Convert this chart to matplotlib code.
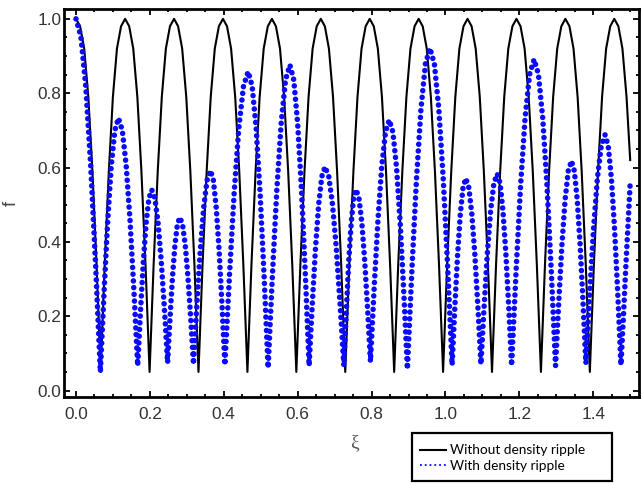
import matplotlib.pyplot as plt
from matplotlib.lines import Line2D
from matplotlib.patches import Rectangle
from matplotlib.ticker import MultipleLocator

# f(xi) without density ripple
xi_plain = [
    0.0000, 0.0111, 0.0223, 0.0334, 0.0445, 0.0557,
    0.0668, 0.0778, 0.0889, 0.0999, 0.1109, 0.1220, 0.1330, 0.1440, 0.1550, 0.1661, 0.1771, 0.1881,
    0.1992, 0.2102, 0.2213, 0.2323, 0.2433, 0.2544, 0.2654, 0.2764, 0.2874, 0.2985, 0.3095, 0.3205,
    0.3316, 0.3426, 0.3537, 0.3647, 0.3757, 0.3868, 0.3978, 0.4088, 0.4198, 0.4309, 0.4419, 0.4529,
    0.4640, 0.4750, 0.4861, 0.4971, 0.5081, 0.5192, 0.5302, 0.5412, 0.5522, 0.5633, 0.5743, 0.5853,
    0.5964, 0.6074, 0.6185, 0.6295, 0.6405, 0.6516, 0.6626, 0.6736, 0.6846, 0.6957, 0.7067, 0.7177,
    0.7288, 0.7398, 0.7509, 0.7619, 0.7729, 0.7840, 0.7950, 0.8060, 0.8170, 0.8281, 0.8391, 0.8501,
    0.8612, 0.8722, 0.8833, 0.8943, 0.9053, 0.9164, 0.9274, 0.9384, 0.9494, 0.9605, 0.9715, 0.9825,
    0.9936, 1.0046, 1.0157, 1.0267, 1.0377, 1.0488, 1.0598, 1.0708, 1.0818, 1.0929, 1.1039, 1.1149,
    1.1260, 1.1370, 1.1481, 1.1591, 1.1701, 1.1812, 1.1922, 1.2032, 1.2142, 1.2253, 1.2363, 1.2473,
    1.2584, 1.2694, 1.2805, 1.2915, 1.3025, 1.3136, 1.3246, 1.3356, 1.3466, 1.3577, 1.3687, 1.3797,
    1.3908, 1.4018, 1.4129, 1.4239, 1.4349, 1.4460, 1.4570, 1.4680, 1.4790, 1.4901, 1.5000,
]
f_plain = [
    1.00, 0.98, 0.92, 0.79, 0.59, 0.34,
    0.05, 0.34, 0.59, 0.79, 0.92, 0.98, 1.00, 0.98, 0.92, 0.79, 0.59, 0.34,
    0.05, 0.34, 0.59, 0.79, 0.92, 0.98, 1.00, 0.98, 0.92, 0.79, 0.59, 0.34,
    0.05, 0.34, 0.59, 0.79, 0.92, 0.98, 1.00, 0.98, 0.92, 0.79, 0.59, 0.34,
    0.05, 0.34, 0.59, 0.79, 0.92, 0.98, 1.00, 0.98, 0.92, 0.79, 0.59, 0.34,
    0.05, 0.34, 0.59, 0.79, 0.92, 0.98, 1.00, 0.98, 0.92, 0.79, 0.59, 0.34,
    0.05, 0.34, 0.59, 0.79, 0.92, 0.98, 1.00, 0.98, 0.92, 0.79, 0.59, 0.34,
    0.05, 0.34, 0.59, 0.79, 0.92, 0.98, 1.00, 0.98, 0.92, 0.79, 0.59, 0.34,
    0.05, 0.34, 0.59, 0.79, 0.92, 0.98, 1.00, 0.98, 0.92, 0.79, 0.59, 0.34,
    0.05, 0.34, 0.59, 0.79, 0.92, 0.98, 1.00, 0.98, 0.92, 0.79, 0.59, 0.34,
    0.05, 0.34, 0.59, 0.79, 0.92, 0.98, 1.00, 0.98, 0.92, 0.79, 0.59, 0.34,
    0.05, 0.34, 0.59, 0.79, 0.92, 0.98, 1.00, 0.98, 0.92, 0.79, 0.62,
]

# f(xi) with density ripple
xi_ripple = [
    0.0000, 0.0132, 0.0264, 0.0396, 0.0528,
    0.0660, 0.0758, 0.0856, 0.0954, 0.1052,
    0.1150, 0.1254, 0.1358, 0.1462, 0.1566,
    0.1670, 0.1746, 0.1822, 0.1898, 0.1974,
    0.2050, 0.2136, 0.2222, 0.2308, 0.2394,
    0.2480, 0.2546, 0.2612, 0.2678, 0.2744,
    0.2810, 0.2884, 0.2958, 0.3032, 0.3106,
    0.3180, 0.3272, 0.3364, 0.3456, 0.3548,
    0.3640, 0.3718, 0.3796, 0.3874, 0.3952,
    0.4030, 0.4156, 0.4282, 0.4408, 0.4534,
    0.4660, 0.4768, 0.4876, 0.4984, 0.5092,
    0.5200, 0.5318, 0.5436, 0.5554, 0.5672,
    0.5790, 0.5894, 0.5998, 0.6102, 0.6206,
    0.6310, 0.6396, 0.6482, 0.6568, 0.6654,
    0.6740, 0.6842, 0.6944, 0.7046, 0.7148,
    0.7250, 0.7316, 0.7382, 0.7448, 0.7514,
    0.7580, 0.7658, 0.7736, 0.7814, 0.7892,
    0.7970, 0.8072, 0.8174, 0.8276, 0.8378,
    0.8480, 0.8578, 0.8676, 0.8774, 0.8872,
    0.8970, 0.9092, 0.9214, 0.9336, 0.9458,
    0.9580, 0.9700, 0.9820, 0.9940, 1.0060,
    1.0180, 1.0254, 1.0328, 1.0402, 1.0476,
    1.0550, 1.0632, 1.0714, 1.0796, 1.0878,
    1.0960, 1.1048, 1.1136, 1.1224, 1.1312,
    1.1400, 1.1478, 1.1556, 1.1634, 1.1712,
    1.1790, 1.1912, 1.2034, 1.2156, 1.2278,
    1.2400, 1.2516, 1.2632, 1.2748, 1.2864,
    1.2980, 1.3066, 1.3152, 1.3238, 1.3324,
    1.3410, 1.3488, 1.3566, 1.3644, 1.3722,
    1.3800, 1.3904, 1.4008, 1.4112, 1.4216,
    1.4320, 1.4406, 1.4492, 1.4578, 1.4664,
    1.4750, 1.4813, 1.4875, 1.4938, 1.5000,
]
f_ripple = [
    1.000, 0.953, 0.819, 0.609, 0.344,
    0.050, 0.261, 0.452, 0.603, 0.700,
    0.733, 0.700, 0.606, 0.459, 0.273,
    0.067, 0.213, 0.345, 0.450, 0.517,
    0.540, 0.517, 0.451, 0.348, 0.219,
    0.075, 0.196, 0.305, 0.391, 0.447,
    0.466, 0.447, 0.391, 0.303, 0.193,
    0.071, 0.232, 0.377, 0.492, 0.566,
    0.592, 0.566, 0.492, 0.377, 0.231,
    0.069, 0.313, 0.533, 0.707, 0.819,
    0.858, 0.819, 0.706, 0.530, 0.307,
    0.061, 0.313, 0.540, 0.720, 0.836,
    0.876, 0.836, 0.721, 0.543, 0.317,
    0.067, 0.232, 0.382, 0.500, 0.576,
    0.602, 0.576, 0.500, 0.382, 0.232,
    0.067, 0.213, 0.346, 0.450, 0.518,
    0.541, 0.518, 0.453, 0.350, 0.221,
    0.078, 0.279, 0.460, 0.604, 0.696,
    0.728, 0.695, 0.600, 0.452, 0.265,
    0.058, 0.325, 0.565, 0.756, 0.879,
    0.921, 0.879, 0.758, 0.570, 0.332,
    0.069, 0.224, 0.364, 0.475, 0.546,
    0.571, 0.546, 0.475, 0.365, 0.225,
    0.071, 0.229, 0.372, 0.485, 0.558,
    0.583, 0.558, 0.484, 0.370, 0.226,
    0.067, 0.322, 0.552, 0.734, 0.851,
    0.891, 0.851, 0.734, 0.552, 0.322,
    0.067, 0.237, 0.391, 0.513, 0.591,
    0.618, 0.591, 0.514, 0.393, 0.241,
    0.073, 0.263, 0.435, 0.571, 0.658,
    0.688, 0.658, 0.570, 0.433, 0.260,
    0.069, 0.190, 0.320, 0.440, 0.558,
]

labels = ['Without density ripple', 'With density ripple']

fig = plt.figure(figsize=(6.41, 4.83), dpi=100)
ax = fig.add_axes([0.0998, 0.178, 0.897, 0.803])

ax.plot(xi_plain, f_plain, color='black', lw=1.5, zorder=2)
ax.plot(xi_ripple, f_ripple, color='#0a0aff', lw=4.0, dashes=(0.01, 1.2),
        dash_capstyle='round', zorder=3)

ax.set_xlim(-0.0325, 1.5237)
ax.set_ylim(-0.0175, 1.026)
ax.xaxis.set_major_locator(MultipleLocator(0.2))
ax.xaxis.set_minor_locator(MultipleLocator(0.05))
ax.yaxis.set_major_locator(MultipleLocator(0.2))
ax.yaxis.set_minor_locator(MultipleLocator(0.05))
ax.xaxis.set_major_formatter(lambda v, p: f'{v:.1f}')
ax.yaxis.set_major_formatter(lambda v, p: f'{v:.1f}')

for s in ax.spines.values():
    s.set_linewidth(2.0)
ax.tick_params(which='both', direction='in', top=True, right=True,
               labelsize=12.4, labelcolor='#333333', width=1.3)
ax.tick_params(which='major', length=4)
ax.tick_params(which='minor', length=2.5)
ax.tick_params(axis='x', pad=7)
ax.tick_params(axis='y', pad=2)
for t in ax.get_xticklabels() + ax.get_yticklabels():
    t.set_family('Liberation Sans')

ax.set_ylabel('f', fontsize=13, color='#444444', family='Liberation Sans')
ax.yaxis.set_label_coords(-0.0765, 0.5)
ax.set_xlabel('ξ', fontsize=14, color='#555555', family='Liberation Serif')
ax.xaxis.set_label_coords(0.506, -0.097)

# legend box below the axes, on the right
fig.patches.append(Rectangle((0.6423, 0.004), 0.313, 0.1, transform=fig.transFigure,
                             fill=False, edgecolor='black', lw=1.6))
handles = [Line2D([], [], color='black', lw=1.5),
           Line2D([], [], color='#0a0aff', lw=1.3, ls=':')]
fig.legend(handles, labels, loc='upper left', bbox_to_anchor=(0.656, 0.08),
           frameon=False, borderpad=0, borderaxespad=0, handlelength=1.9,
           handletextpad=0.25, labelspacing=0.25,
           prop={'family': 'Lato', 'size': 9.8})

fig.savefig('out.png', dpi=100)
